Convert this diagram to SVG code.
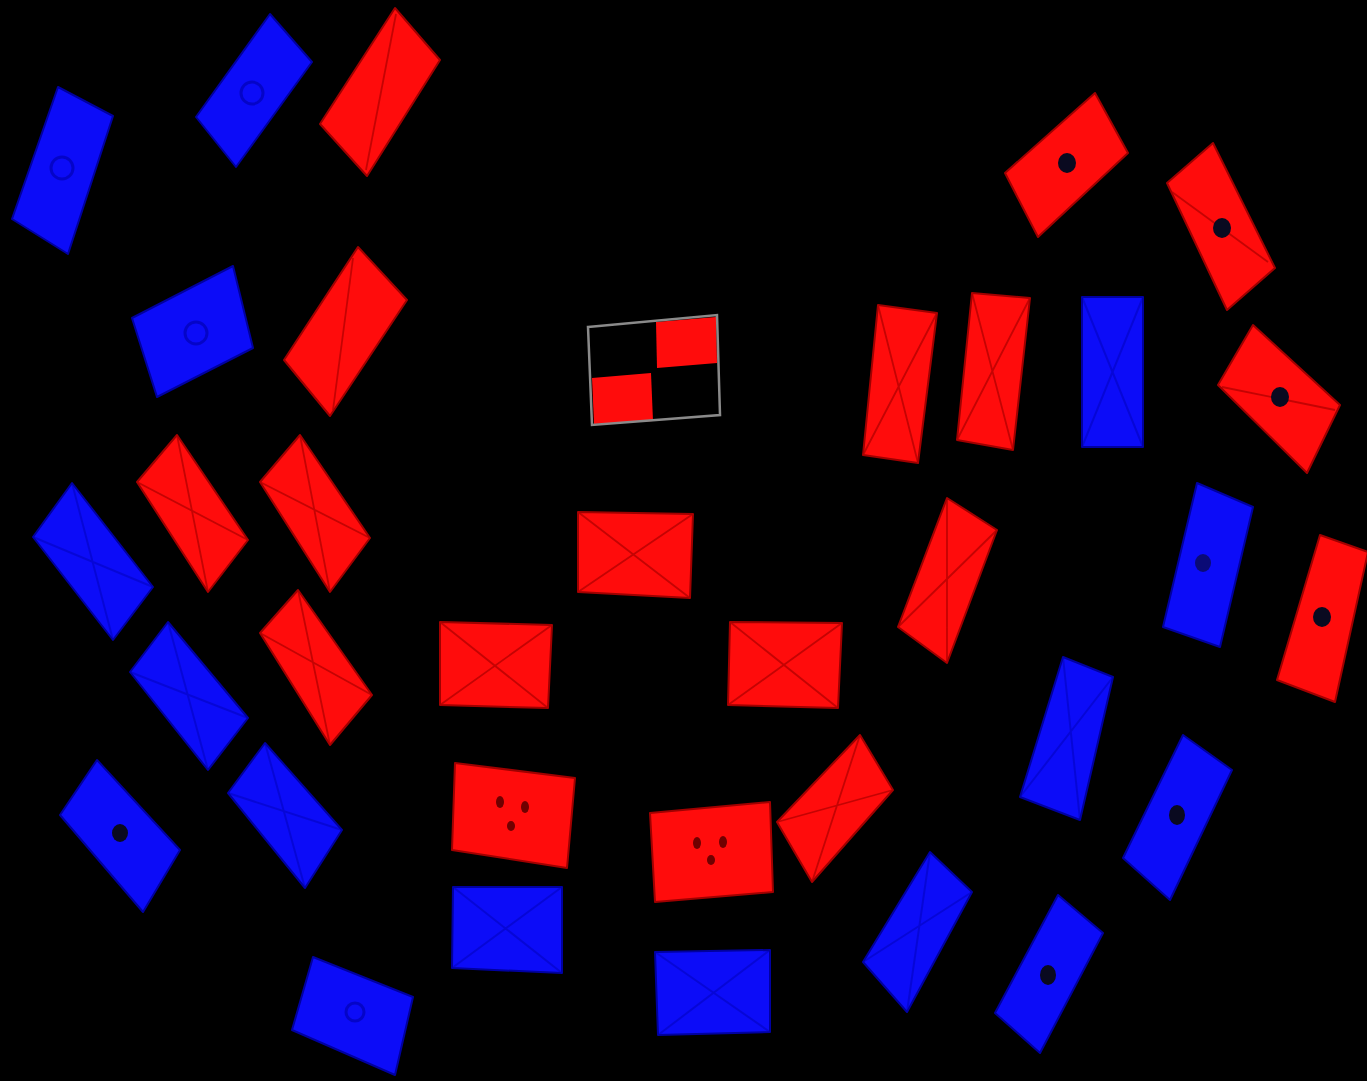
<svg xmlns="http://www.w3.org/2000/svg" width="1367" height="1081" viewBox="0 0 1367 1081">
<style>
.r{fill:#ff0c0c;stroke:#a00000;stroke-width:2;stroke-linejoin:round}
.b{fill:#0c0cf8;stroke:#0000a0;stroke-width:2;stroke-linejoin:round}
.rx{fill:none;stroke:#b00000;stroke-width:1.8;opacity:0.75}
.bx{fill:none;stroke:#0000b0;stroke-width:2;opacity:0.45}
.dot{fill:#0a0a20}
.ring{fill:none;stroke:#0000a8;stroke-width:3;opacity:0.6}
.eye{fill:#700000}
.chk{fill:none;stroke:#8a8a8a;stroke-width:2.5}
</style>
<rect width="1367" height="1081" fill="#000"/>
<g id="connectors"/>
<!-- Left group -->
<g id="L1"><polygon class="b" points="58,87 113,116 68,254 12,219"/><circle class="ring" cx="62" cy="168" r="11"/></g>
<g id="L2"><polygon class="b" points="270,14 312,62 236,167 196,117"/><circle class="ring" cx="252" cy="93" r="11"/></g>
<g id="L3"><polygon class="r" points="395,8 440,60 367,176 320,124"/><path class="rx" d="M396,14 L366,170"/></g>
<g id="L4"><polygon class="b" points="233,266 253,348 157,397 132,318"/><circle class="ring" cx="196" cy="333" r="11"/></g>
<g id="L5"><polygon class="r" points="358,247 407,300 330,416 284,360"/><path class="rx" d="M353,258 L333,410"/></g>
<g id="L6"><polygon class="r" points="177,435 248,540 208,592 137,482"/><path class="rx" d="M177,435 L208,592 M248,540 L137,482"/></g>
<g id="L8"><polygon class="r" points="300,435 370,538 330,592 260,482"/><path class="rx" d="M300,435 L330,592 M370,538 L260,482"/></g>
<g id="L9"><polygon class="r" points="298,590 372,695 330,745 260,633"/><path class="rx" d="M298,590 L330,745 M372,695 L260,633"/></g>
<g id="L7"><polygon class="b" points="72,483 153,587 113,640 33,537"/><path class="bx" d="M72,483 L113,640 M153,587 L33,537"/></g>
<g id="L10"><polygon class="b" points="168,622 248,718 208,770 130,672"/><path class="bx" d="M168,622 L208,770 M248,718 L130,672"/></g>
<g id="L11"><polygon class="b" points="97,760 180,850 143,912 60,815"/><ellipse class="dot" cx="120" cy="833" rx="8" ry="9"/></g>
<g id="L12"><polygon class="b" points="265,743 342,830 305,888 228,793"/><path class="bx" d="M265,743 L305,888 M342,830 L228,793"/></g>
<g id="L13"><polygon class="b" points="313,957 413,997 395,1075 292,1030"/><circle class="ring" cx="355" cy="1012" r="9"/></g>
<!-- Center group -->
<g id="C1">
<polygon fill="#ff0c0c" points="656,322 716,317 717,363 657,368"/>
<polygon fill="#ff0c0c" points="592,378 651,373 653,421 594,424"/>
<polygon class="chk" points="588,327 717,315 720,415 592,425"/>
</g>
<g id="C2"><polygon class="r" points="578,512 693,514 690,598 578,592"/><path class="rx" d="M578,512 L690,598 M693,514 L578,592"/></g>
<g id="C3"><polygon class="r" points="440,622 552,625 548,708 440,705"/><path class="rx" d="M440,622 L548,708 M552,625 L440,705"/></g>
<g id="C4"><polygon class="r" points="730,622 842,623 838,708 728,705"/><path class="rx" d="M730,622 L838,708 M842,623 L728,705"/></g>
<g id="C5"><polygon class="r" points="455,763 575,778 567,868 452,850"/><ellipse class="eye" cx="500" cy="802" rx="4" ry="6"/><ellipse class="eye" cx="525" cy="807" rx="4" ry="6"/><ellipse class="eye" cx="511" cy="826" rx="4" ry="5"/></g>
<g id="C6"><polygon class="b" points="453,887 562,887 562,973 452,968"/><path class="bx" d="M453,887 L562,973 M562,887 L452,968"/></g>
<g id="C7"><polygon class="r" points="650,813 770,802 773,892 655,902"/><ellipse class="eye" cx="697" cy="843" rx="4" ry="6"/><ellipse class="eye" cx="723" cy="842" rx="4" ry="6"/><ellipse class="eye" cx="711" cy="860" rx="4" ry="5"/></g>
<g id="C8"><polygon class="b" points="655,952 770,950 770,1032 658,1035"/><path class="bx" d="M655,952 L770,1032 M770,950 L658,1035"/></g>
<g id="C9"><polygon class="r" points="860,735 893,790 812,882 777,822"/><path class="rx" d="M860,735 L812,882 M893,790 L777,822"/></g>
<!-- Right group -->
<g id="R1"><polygon class="r" points="1095,93 1128,153 1038,237 1005,173"/><ellipse class="dot" cx="1067" cy="163" rx="9" ry="10"/></g>
<g id="R2"><polygon class="r" points="1213,143 1275,268 1227,310 1167,183"/><path class="rx" d="M1172,192 L1268,262" opacity="0.5"/><ellipse class="dot" cx="1222" cy="228" rx="9" ry="10"/></g>
<g id="R3"><polygon class="r" points="1253,325 1340,405 1307,473 1218,385"/><path class="rx" d="M1222,387 L1335,410" opacity="0.5"/><ellipse class="dot" cx="1280" cy="397" rx="9" ry="10"/></g>
<g id="R4"><polygon class="r" points="878,305 937,313 918,463 863,455"/><path class="rx" d="M878,305 L918,463 M937,313 L863,455"/></g>
<g id="R5"><polygon class="r" points="972,293 1030,298 1013,450 957,440"/><path class="rx" d="M972,293 L1013,450 M1030,298 L957,440"/></g>
<g id="R6"><polygon class="b" points="1082,297 1143,297 1143,447 1082,447"/><path class="bx" d="M1082,297 L1143,447 M1143,297 L1082,447"/></g>
<g id="R7"><polygon class="r" points="947,498 997,530 947,663 898,627"/><path class="rx" d="M947,498 L947,663 M997,530 L898,627"/></g>
<g id="R8"><polygon class="b" points="1197,483 1253,507 1220,647 1163,627"/><ellipse class="dot" cx="1203" cy="563" rx="8" ry="9" opacity="0.6"/></g>
<g id="R9"><polygon class="r" points="1320,535 1368,552 1335,702 1277,680"/><ellipse class="dot" cx="1322" cy="617" rx="9" ry="10"/></g>
<g id="R10"><polygon class="b" points="1063,657 1113,677 1080,820 1020,797"/><path class="bx" d="M1063,657 L1080,820 M1113,677 L1020,797"/></g>
<g id="R11"><polygon class="b" points="1183,735 1232,770 1170,900 1123,858"/><ellipse class="dot" cx="1177" cy="815" rx="8" ry="10"/></g>
<g id="R12"><polygon class="b" points="930,852 972,892 907,1012 863,962"/><path class="bx" d="M930,852 L907,1012 M972,892 L863,962"/></g>
<g id="R13"><polygon class="b" points="1058,895 1103,933 1040,1053 995,1013"/><ellipse class="dot" cx="1048" cy="975" rx="8" ry="10"/></g>
</svg>
